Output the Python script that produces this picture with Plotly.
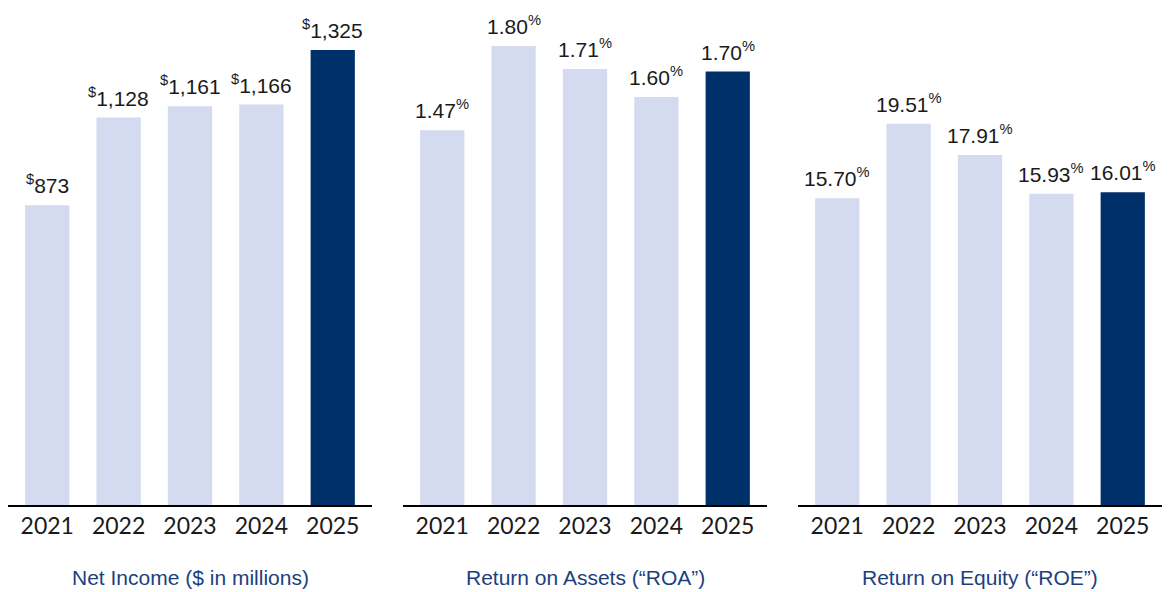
import plotly.graph_objects as go

years = ["2021", "2022", "2023", "2024", "2025"]
net_income = [873, 1128, 1161, 1166, 1325]
roa = [1.47, 1.80, 1.71, 1.60, 1.70]
roe = [15.70, 19.51, 17.91, 15.93, 16.01]
titles = ["Net Income ($ in millions)", "Return on Assets (\u201cROA\u201d)", "Return on Equity (\u201cROE\u201d)"]

LIGHT = "#D4DAEF"
DARK = "#00306A"
TITLE_C = "#1C3F7E"
W, H = 1175, 592

panels = [
    (net_income, lambda v: f"<sup>$</sup>{v:,.0f}", 1412),
    (roa, lambda v: f"{v:.2f}<sup>%</sup>", 1.902),
    (roe, lambda v: f"{v:.2f}<sup>%</sup>", 24.82),
]
xdoms = [(8, 372), (403, 767), (798, 1162)]
ydom = [(H - 505) / H, (H - 20) / H]

fig = go.Figure()
for i, (vals, fmt, ymax) in enumerate(panels):
    n = "" if i == 0 else str(i + 1)
    colors = [LIGHT] * (len(years) - 1) + [DARK]
    fig.add_trace(go.Bar(x=years, y=vals, marker=dict(color=colors, line=dict(width=0)),
                         width=0.62, xaxis="x" + n, yaxis="y" + n, showlegend=False,
                         hoverinfo="skip"))
    for j, v in enumerate(vals):
        fig.add_annotation(x=j, y=v, xref="x" + n, yref="y" + n, text=fmt(v),
                           showarrow=False, yanchor="bottom", yshift=6,
                           font=dict(family="Liberation Sans, Arial", size=21, color="#1a1a1a"))
    d = xdoms[i]
    fig.update_layout(**{
        "xaxis" + n: dict(type="category", domain=[d[0] / W, d[1] / W], range=[-0.55, 4.55],
                          showline=True, linecolor="#000000", linewidth=1.5, showgrid=False,
                          zeroline=False, ticks="",
                          tickfont=dict(family="Lato", size=23, color="#1a1a1a"),
                          anchor="y" + n, fixedrange=True),
        "yaxis" + n: dict(domain=ydom, range=[0, ymax], showticklabels=False, showgrid=False,
                          zeroline=False, showline=False, ticks="", anchor="x" + n,
                          fixedrange=True),
    })
    fig.add_annotation(x=(d[0] + d[1]) / 2 / W, y=(H - 577) / H, xref="paper", yref="paper",
                       text=titles[i], showarrow=False, xanchor="center", yanchor="middle",
                       font=dict(family="Liberation Sans, Arial", size=21, color=TITLE_C))

fig.update_layout(width=W, height=H, margin=dict(l=0, r=0, t=0, b=0),
                  paper_bgcolor="white", plot_bgcolor="white", bargap=0.38)

fig.write_html("out.html", config={"displayModeBar": False},
               post_script="document.body.style.margin='0';")
